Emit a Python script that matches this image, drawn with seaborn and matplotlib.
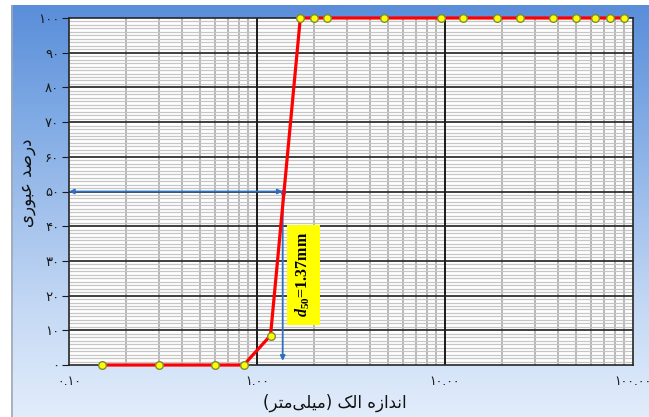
import numpy as np
import pandas as pd
import matplotlib
matplotlib.use("Agg")
import matplotlib.pyplot as plt
import seaborn as sns
from matplotlib.colors import LinearSegmentedColormap
from matplotlib.ticker import FixedLocator, LogLocator, NullFormatter

# Sieve analysis: opening size (mm) and cumulative percent passing
sieve_mm = [0.15, 0.3, 0.6, 0.85, 1.18, 1.7, 2.0, 2.36, 4.75, 9.5,
            12.5, 19, 25, 37.5, 50, 63, 75, 90]
passing = [0, 0, 0, 0, 8.5, 100, 100, 100, 100, 100,
           100, 100, 100, 100, 100, 100, 100, 100]
d50 = 1.37

x_ticks = [0.1, 1, 10, 100]
x_tick_text = ["0.10", "1.00", "10.00", "100.00"]
y_ticks = list(range(0, 101, 10))

FA_DIGITS = str.maketrans("0123456789", "۰۱۲۳۴۵۶۷۸۹")


def fa(s):
    return str(s).translate(FA_DIGITS)


# Persian labels written with Arabic presentation forms in visual order,
# because matplotlib draws glyphs left to right without shaping.
y_title = "\uFEEF\uFEAD\uFEEE\uFE92\uFECB \uFEAA\uFEBB\uFEAD\uFEA9"          # درصد عبوری
x_title = ("(\uFEAE\uFE98\uFEE3\uFEF0\uFEE0\uFEF4\uFEE3) "                   # (میلی‌متر)
           "\uFB8F\uFEDF\uFE8D "                                              # الک
           "\uFEE9\uFEAF\uFE8D\uFEAA\uFEE7\uFE8D")                            # اندازه

sns.set_style("white")
plt.rcParams["font.family"] = ["DejaVu Sans"]
plt.rcParams["mathtext.fontset"] = "custom"
plt.rcParams["mathtext.rm"] = "Liberation Serif:bold"
plt.rcParams["mathtext.it"] = "Liberation Serif:italic:bold"

W, H = 649, 417
fig = plt.figure(figsize=(W / 100, H / 100), dpi=100)
fig.patch.set_facecolor("white")

# Gradient panel behind the chart
bg = fig.add_axes([11 / W, 0, 1 - 11 / W, 412 / H], zorder=-1)
cmap = LinearSegmentedColormap.from_list(
    "sky", ["#e2edfb", "#c6daf5", "#a2c1ec", "#7ca8e4", "#5a8ed9"])
grad = np.linspace(0, 1, 256).reshape(-1, 1)
bg.imshow(grad, aspect="auto", cmap=cmap, origin="lower",
          extent=[0, 1, 0, 1])
bg.set_xlim(0, 1)
bg.set_ylim(0, 1)
bg.axis("off")
bg.plot([0.001, 0.001], [0, 1], color="#a0a8b4", lw=1.2)

ax = fig.add_axes([69 / W, (H - 365) / H, (633 - 69) / W, (365 - 18) / H])
ax.set_facecolor("white")
ax.set_xscale("log")
ax.set_xlim(0.1, 100)
ax.set_ylim(0, 100)

# Grid: dense light horizontals every 1 %, grey verticals, dark majors
ax.yaxis.set_major_locator(FixedLocator(y_ticks))
ax.yaxis.set_minor_locator(FixedLocator([v for v in range(1, 100) if v % 10]))
ax.xaxis.set_major_locator(FixedLocator(x_ticks))
ax.xaxis.set_minor_locator(LogLocator(base=10, subs=np.arange(2, 10)))
ax.xaxis.set_minor_formatter(NullFormatter())
ax.grid(which="minor", axis="y", color="#c6c6c6", lw=0.9)
ax.grid(which="minor", axis="x", color="#aaaaaa", lw=1.2)
ax.grid(which="major", visible=False)
ax.set_axisbelow(True)
for v in y_ticks[1:-1]:
    ax.axhline(v, color="#303030", lw=1.3, zorder=1)
for v in x_ticks[1:-1]:
    ax.axvline(v, color="#1a1a1a", lw=1.4, zorder=1)

ax.set_xticklabels([fa(t) for t in x_tick_text])
ax.set_yticklabels([fa(v) for v in y_ticks])
ax.tick_params(axis="x", which="both", length=0, pad=7, labelsize=9,
               colors="#1a1a1a")
ax.tick_params(axis="y", which="major", length=5, width=0.8, pad=2,
               labelsize=9.5, colors="#1a1a1a", direction="out", left=True)
ax.tick_params(axis="y", which="minor", length=0)
for side in ["left", "right", "top", "bottom"]:
    ax.spines[side].set_color("#262626")
    ax.spines[side].set_linewidth(1.2)

df = pd.DataFrame({"sieve": sieve_mm, "passing": passing})
sns.lineplot(data=df, x="sieve", y="passing", ax=ax, color="#ff0000",
             lw=2.3, marker="o", markersize=5.5, markerfacecolor="#ffff00",
             markeredgecolor="#7d8c35", markeredgewidth=1.0,
             clip_on=False, zorder=6, sort=False)

blue = "#2f6fc0"
ax.annotate("", xy=(0.1, 50), xytext=(d50, 50),
            arrowprops=dict(arrowstyle="<|-|>", color=blue, lw=1.3,
                            mutation_scale=7, shrinkA=0, shrinkB=0),
            zorder=5)
ax.annotate("", xy=(d50, 1.2), xytext=(d50, 50),
            arrowprops=dict(arrowstyle="-|>", color=blue, lw=1.3,
                            mutation_scale=7, shrinkA=0, shrinkB=0),
            zorder=5)
ax.plot([d50], [50], "o", color=blue, ms=3, zorder=5)

ax.text(1.76, 26, r"$d_{50}$=1.37mm", rotation=90, ha="center",
        va="center", fontsize=11.5, family="Liberation Serif",
        fontweight="bold", color="black", zorder=7,
        bbox=dict(boxstyle="square,pad=0.45", fc="#ffff00", ec="none"))

ax.set_xlabel(x_title, fontsize=12, color="#111111")
ax.set_ylabel(y_title, fontsize=12, color="#111111")
ax.xaxis.set_label_coords(0.472, -0.11)
ax.yaxis.set_label_coords(-0.074, 0.524)
ax.yaxis.label.set_va("center")
ax.xaxis.label.set_va("center")

fig.savefig("out.png", dpi=100)
